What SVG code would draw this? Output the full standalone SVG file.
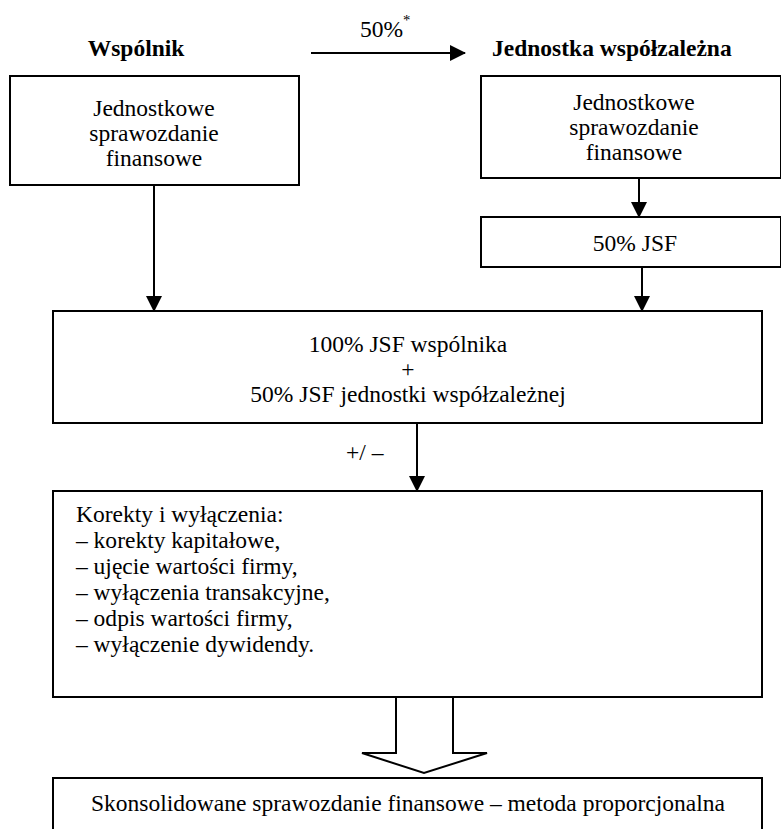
<svg xmlns="http://www.w3.org/2000/svg" width="781" height="829" viewBox="0 0 781 829">
<style>
.box{fill:#fff;stroke:#000;stroke-width:2}
.t{font-family:'Liberation Serif','Times New Roman',Times,serif;font-size:24px;fill:#000}
.c{text-anchor:middle}
.b{font-weight:bold}
.con{stroke:#000;stroke-width:2;fill:none}
</style>
<defs>
<marker id="ah" markerWidth="16" markerHeight="18" refX="15" refY="8" orient="auto" markerUnits="userSpaceOnUse" viewBox="0 0 16 16">
<path d="M0,0 L16,8 L0,16 Z" fill="#000"/>
</marker>
</defs>
<rect width="781" height="829" fill="#fff"/>
<g id="node-wspolnik-jsf">
<rect class="box" x="10" y="76" width="289" height="109"/>
<g transform="scale(0.98,1)">
<text class="t c" x="157.14" y="116">Jednostkowe</text>
<text class="t c" x="157.14" y="141">sprawozdanie</text>
<text class="t c" x="157.14" y="166">finansowe</text>
</g>
</g>
<g id="node-jw-jsf">
<rect class="box" x="481" y="76" width="300" height="102"/>
<g transform="scale(0.98,1)">
<text class="t c" x="646.94" y="110">Jednostkowe</text>
<text class="t c" x="646.94" y="135">sprawozdanie</text>
<text class="t c" x="646.94" y="160">finansowe</text>
</g>
</g>
<g id="node-50jsf">
<rect class="box" x="481" y="217" width="300" height="50"/>
<text class="t c" transform="scale(0.98,1)" x="647.96" y="251">50% JSF</text>
</g>
<g id="node-sum">
<rect class="box" x="53" y="311" width="709" height="112"/>
<g transform="scale(0.98,1)">
<text class="t c" x="416.33" y="352">100% JSF wspólnika</text>
<text class="t c" x="416.33" y="377">+</text>
<text class="t c" x="416.33" y="402">50% JSF jednostki współzależnej</text>
</g>
</g>
<g id="node-korekty">
<rect class="box" x="53" y="491" width="709" height="206"/>
<g transform="scale(0.98,1)">
<text class="t" x="77.55" y="522">Korekty i wyłączenia:</text>
<text class="t" x="77.55" y="548">– korekty kapitałowe,</text>
<text class="t" x="77.55" y="574">– ujęcie wartości firmy,</text>
<text class="t" x="77.55" y="600">– wyłączenia transakcyjne,</text>
<text class="t" x="77.55" y="626">– odpis wartości firmy,</text>
<text class="t" x="77.55" y="652">– wyłączenie dywidendy.</text>
</g>
</g>
<g id="node-result">
<rect class="box" x="53" y="778" width="709" height="60"/>
<text class="t c" transform="scale(0.98,1)" x="416.33" y="811">Skonsolidowane sprawozdanie finansowe – metoda proporcjonalna</text>
</g>
<g id="labels" transform="scale(0.98,1)">
<text class="t b c" x="138.78" y="56">Wspólnik</text>
<text class="t b" x="502.04" y="56">Jednostka współzależna</text>
<text class="t" x="367.35" y="37">50%<tspan font-size="15" dy="-12">*</tspan></text>
</g>
<g id="connectors">
<line class="con" x1="311" y1="53" x2="465" y2="53" marker-end="url(#ah)"/>
<line class="con" x1="154" y1="185" x2="154" y2="311" marker-end="url(#ah)"/>
<line class="con" x1="639" y1="178" x2="639" y2="217" marker-end="url(#ah)"/>
<line class="con" x1="642" y1="267" x2="642" y2="311" marker-end="url(#ah)"/>
<line class="con" x1="417" y1="423" x2="417" y2="491" marker-end="url(#ah)"/>
<text class="t" transform="scale(0.98,1)" x="353.06" y="460">+/ –</text>
<polygon points="396,697 396,753 362,753 424,773 487,753 453,753 453,697" fill="#fff" stroke="#000" stroke-width="2"/>
</g>
</svg>
